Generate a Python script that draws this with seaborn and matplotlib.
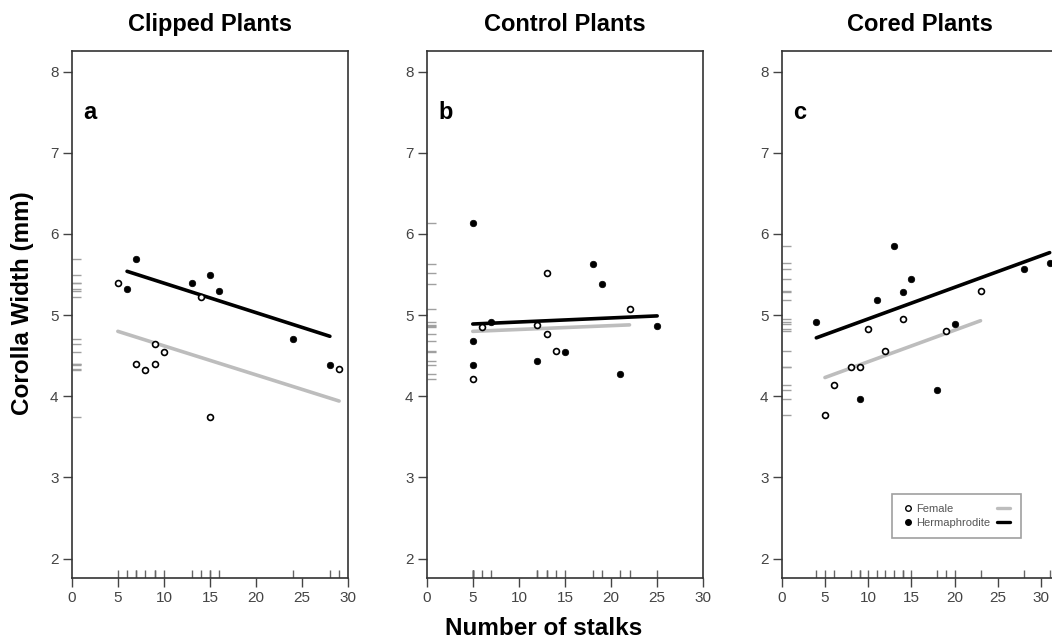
import numpy as np
import pandas as pd
import matplotlib
matplotlib.use('Agg')
import matplotlib.pyplot as plt
import seaborn as sns
from matplotlib.lines import Line2D

sns.set_style('white')
plt.rcParams['font.family'] = ['Liberation Sans', 'DejaVu Sans']
plt.rcParams['text.color'] = 'black'

panel_titles = ['Clipped Plants', 'Control Plants', 'Cored Plants']
panel_letters = ['a', 'b', 'c']

# Clipped plants
clip_fem_x = [5, 7, 8, 9, 9, 10, 14, 15, 29]
clip_fem_y = [5.39, 4.40, 4.32, 4.64, 4.40, 4.54, 5.22, 3.74, 4.33]
clip_her_x = [6, 7, 13, 15, 16, 24, 28]
clip_her_y = [5.32, 5.69, 5.40, 5.49, 5.30, 4.70, 4.38]

# Control plants
ctrl_fem_x = [5, 6, 12, 13, 13, 14, 22]
ctrl_fem_y = [4.21, 4.85, 4.88, 5.52, 4.77, 4.56, 5.08]
ctrl_her_x = [5, 5, 5, 7, 12, 15, 18, 19, 21, 25]
ctrl_her_y = [6.13, 4.68, 4.39, 4.92, 4.43, 4.54, 5.63, 5.38, 4.28, 4.87]

# Cored plants
core_fem_x = [5, 6, 8, 9, 10, 12, 14, 19, 23]
core_fem_y = [3.77, 4.14, 4.36, 4.36, 4.83, 4.56, 4.95, 4.80, 5.30]
core_her_x = [4, 9, 11, 13, 14, 15, 18, 20, 28, 31]
core_her_y = [4.91, 3.96, 5.19, 5.85, 5.28, 5.44, 4.08, 4.89, 5.57, 5.64]

# fitted lines (intercept, slope) per panel
fem_intercept = [4.979, 4.776, 4.036]
fem_slope = [-0.0358, 0.0047, 0.0389]
her_intercept = [5.758, 4.865, 4.564]
her_slope = [-0.0364, 0.0050, 0.0389]

x_limits = [(0, 30), (0, 30), (0, 32)]

fem_data = [(clip_fem_x, clip_fem_y), (ctrl_fem_x, ctrl_fem_y), (core_fem_x, core_fem_y)]
her_data = [(clip_her_x, clip_her_y), (ctrl_her_x, ctrl_her_y), (core_her_x, core_her_y)]

FEM_LINE = '#bdbdbd'
AX_COL = '#444444'

fig = plt.figure(figsize=(10.52, 6.4), dpi=100)
lefts = [0.0682, 0.4056, 0.7431]
axes = [fig.add_axes([l, 0.0969, 0.2629, 0.8228]) for l in lefts]

for i, ax in enumerate(axes):
    fx, fy = fem_data[i]
    hx, hy = her_data[i]

    # regression lines over each group's range
    fl = pd.DataFrame({'x': [min(fx), max(fx)]})
    fl['y'] = fem_intercept[i] + fem_slope[i] * fl['x']
    hl = pd.DataFrame({'x': [min(hx), max(hx)]})
    hl['y'] = her_intercept[i] + her_slope[i] * hl['x']
    sns.lineplot(data=fl, x='x', y='y', ax=ax, color=FEM_LINE, lw=2.6, zorder=2)
    sns.lineplot(data=hl, x='x', y='y', ax=ax, color='black', lw=2.6, zorder=3)

    sns.scatterplot(x=fx, y=fy, ax=ax, marker='o', s=18, facecolor='white',
                    edgecolor='black', linewidth=1.2, zorder=4)
    sns.scatterplot(x=hx, y=hy, ax=ax, marker='o', s=22, color='black',
                    edgecolor='black', linewidth=0.5, zorder=4)

    # rugs
    sns.rugplot(x=fx + hx, ax=ax, height=8 / 526.6, color='#666666', lw=0.9)
    sns.rugplot(y=fy + hy, ax=ax, height=9 / 276.7, color='#a0a0a0', lw=0.9)

    ax.set_xlim(*x_limits[i])
    ax.set_ylim(1.76, 8.25)
    ax.set_xticks(range(0, 31, 5))
    ax.set_yticks(range(2, 9))
    ax.set_xlabel('')
    ax.set_ylabel('')
    ax.tick_params(direction='out', length=6.5, width=1, color=AX_COL,
                   labelsize=11, labelcolor=AX_COL, pad=3,
                   bottom=True, left=True)
    for sp in ax.spines.values():
        sp.set_color('#333333')
        sp.set_linewidth(1.2)
    ax.set_title(panel_titles[i], fontsize=17, fontweight='bold', pad=15)
    ax.text(0.042, 0.872, panel_letters[i], transform=ax.transAxes,
            fontsize=17, fontweight='bold', va='baseline', ha='left')

# legend on the last panel: marker, label, line
handles = [
    Line2D([], [], marker='o', ls='none', mfc='white', mec='black', ms=4, mew=1.0),
    Line2D([], [], marker='o', ls='none', mfc='black', mec='black', ms=4),
    Line2D([], [], color=FEM_LINE, lw=2.4),
    Line2D([], [], color='black', lw=2.4),
]
leg = axes[2].legend(handles, ['Female', 'Hermaphrodite', '', ''], ncol=2,
                     loc='lower left', bbox_to_anchor=(0.398, 0.0765),
                     borderaxespad=0, fontsize=8, handlelength=1.2,
                     handletextpad=0.1, columnspacing=0.6, labelspacing=0.35,
                     frameon=True, fancybox=False, borderpad=0.9)
leg.get_frame().set_edgecolor('#888888')
leg.get_frame().set_linewidth(1.2)
for t in leg.get_texts():
    t.set_color('#555555')

fig.text(544 / 1052, 5 / 640, 'Number of stalks', fontsize=17.5,
         fontweight='bold', ha='center', va='baseline')
fig.text(23 / 1052, 1 - 303 / 640, 'Corolla Width (mm)', fontsize=17.5,
         fontweight='bold', ha='center', va='center', rotation=90)

fig.savefig('out.png', dpi=100)
